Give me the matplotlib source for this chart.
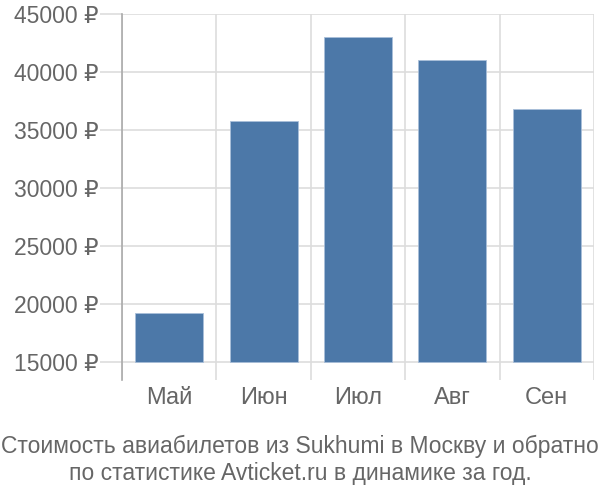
import matplotlib

matplotlib.use("Agg")
import matplotlib.pyplot as plt

# данные с графика
months = ["Май", "Июн", "Июл", "Авг", "Сен"]
prices = [19250, 35800, 43050, 41050, 36800]
y_ticks = [15000, 20000, 25000, 30000, 35000, 40000, 45000]
base = 15000

caption = ("Стоимость авиабилетов из Sukhumi в Москву и обратно\n"
           "по статистике Avticket.ru в динамике за год.")

plt.rcParams["font.family"] = ["Liberation Sans", "DejaVu Sans"]

text_color = "#666666"
grid_color = "#dddddd"
bar_color = "#4c78a8"

fig = plt.figure(figsize=(6, 5), dpi=100)
ax = fig.add_axes([122 / 600, 1 - 380 / 500, 472 / 600, 366 / 500])

x = list(range(len(months)))
heights = [p - base for p in prices]
ax.bar(x, heights, bottom=base, width=0.72, color=bar_color,
       edgecolor="#a9bfd9", linewidth=0.6, zorder=3)

ax.set_xlim(-0.5, len(months) - 0.5)
ax.set_ylim(13450, 45000)

# горизонтальная сетка + длинные засечки слева
ax.set_yticks(y_ticks)
ax.set_yticklabels([f"{v} ₽" for v in y_ticks])
ax.yaxis.grid(True, color=grid_color, linewidth=1.2, zorder=0)
ax.tick_params(axis="y", length=16, width=1.2, color=grid_color,
               labelsize=16.5, labelcolor=text_color, pad=1)

# вертикальная сетка по границам категорий
ax.set_xticks(x)
ax.set_xticklabels(months)
ax.set_xticks([i - 0.5 for i in range(len(months) + 1)], minor=True)
ax.xaxis.grid(True, which="minor", color=grid_color, linewidth=1.2, zorder=0)
ax.tick_params(axis="x", which="major", length=0, labelsize=17,
               labelcolor=text_color, pad=5)
ax.tick_params(axis="x", which="minor", length=0)

for side in ["top", "right", "bottom"]:
    ax.spines[side].set_visible(False)
ax.spines["left"].set_color("#aaaaaa")
ax.spines["left"].set_linewidth(1.2)

fig.text(0.5, 1 - 460 / 500, caption, ha="center", va="center",
         fontsize=16.5, color=text_color, linespacing=1.22)

fig.savefig("out.png", dpi=100)
